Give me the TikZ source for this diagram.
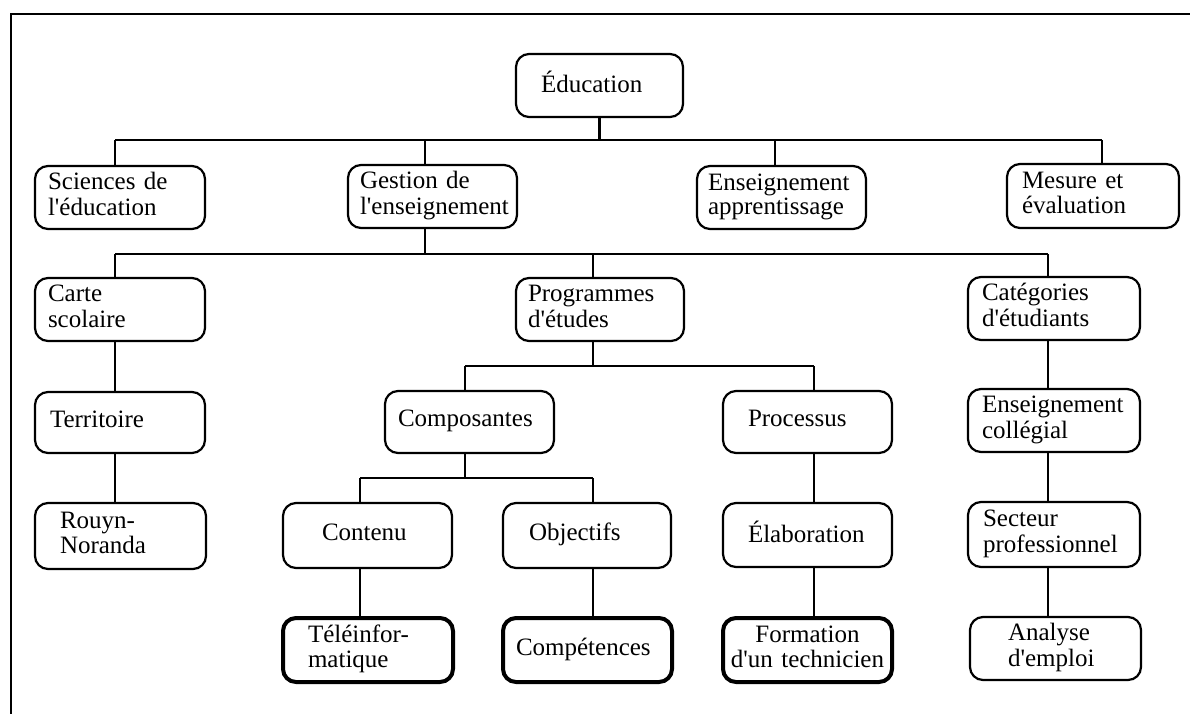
\documentclass[tikz,border=0pt]{standalone}
\usepackage{fontspec}
\setmainfont{Liberation Serif}[Ligatures=TeXOff]
\tikzset{
  box/.style={draw, line width=2.2pt, rounded corners=13pt, inner ysep=0pt,
    font=\fontsize{25}{24.5}\selectfont, align=left,
    execute at begin node=\strut, execute at end node=\strut},
  heavy/.style={line width=4pt},
  link/.style={line width=2.2pt},
  frame/.style={line width=2.2pt}
}
% \bx{name}{x1}{y1}{x2}{y2}{left inset}{extra style}{text}
\newcommand\bx[8]{%
  \pgfmathsetmacro\bxw{#4-#2}%
  \pgfmathsetmacro\bxh{#5-#3}%
  \pgfmathsetmacro\bxt{#4-#2-2*#6}%
  \node[box,#7,minimum width=\bxw pt,minimum height=\bxh pt,
        text width=\bxt pt,inner xsep=#6pt] (#1) at ({(#2+#4)/2},{(#3+#5)/2}) {#8};}
\begin{document}
\begin{tikzpicture}[x=1pt,y=-1pt]
\useasboundingbox (0,0) rectangle (1190,714);
\fill[white] (0,0) rectangle (1190,714);
% page frame (top and left rules)
\draw[frame] (11,714) -- (11,14) -- (1190,14);

% level 0
\bx{edu}{516}{54}{683}{117}{25}{}{Éducation}
% level 1
\bx{sci}{35}{166}{205}{229}{13}{}{Sciences de\\l'éducation}
\bx{ges}{348}{165}{517}{228}{12}{}{Gestion de\\l'enseignement}
\bx{ens}{697}{166}{866}{229}{11}{}{Enseignement\\apprentissage}
\bx{mes}{1007}{164}{1179}{228}{15}{}{Mesure et\\évaluation}
% level 2
\bx{car}{35}{278}{205}{341}{13}{}{Carte\\scolaire}
\bx{pro}{516}{278}{684}{341}{12}{}{Programmes\\d'études}
\bx{cat}{968}{277}{1140}{340}{14}{}{Catégories\\d'étudiants}
% level 3
\bx{ter}{35}{392}{205}{453}{15}{}{Territoire}
\bx{com}{385}{391}{554}{453}{13}{}{Composantes}
\bx{prc}{723}{391}{892}{453}{25}{}{Processus}
\bx{col}{968}{389}{1140}{452}{14}{}{Enseignement\\collégial}
% level 4
\bx{rou}{35}{503}{206}{569}{25}{}{Rouyn-\\Noranda}
\bx{cnt}{283}{503}{452}{568}{39}{}{Contenu}
\bx{obj}{503}{503}{671}{568}{26}{}{Objectifs}
\bx{ela}{723}{503}{892}{567}{25}{}{Élaboration}
\bx{sec}{968}{502}{1140}{567}{15}{}{Secteur\\professionnel}
% level 5
\bx{tel}{283}{618}{453}{682}{25}{heavy}{Téléinfor-\\matique}
\bx{cmp}{503}{618}{672}{682}{13}{heavy}{Compétences}
\bx{frm}{723}{618}{892}{682}{4}{heavy,align=center}{Formation\\d'un technicien}
\bx{ana}{970}{617}{1141}{680}{38}{}{Analyse\\d'emploi}

% junction points
\coordinate (a1) at (115,140);  \coordinate (a2) at (425,140);
\coordinate (a3) at (775,140);  \coordinate (a4) at (1102,140);
\coordinate (b0) at (425,254);
\coordinate (b1) at (115,254);  \coordinate (b2) at (593,254);
\coordinate (b3) at (1048,254);
\coordinate (c0) at (593,366);
\coordinate (c1) at (465,366);  \coordinate (c2) at (814,366);
\coordinate (d0) at (465,478);
\coordinate (d1) at (360,478);  \coordinate (d2) at (593,478);

% Éducation and its four branches
\draw[link] (edu.south) -- (edu.south |- a1);
\draw[link] (a1) -- (a4);
\draw[link] (a1) -- (a1 |- sci.north);
\draw[link] (a2) -- (a2 |- ges.north);
\draw[link] (a3) -- (a3 |- ens.north);
\draw[link] (a4) -- (a4 |- mes.north);

% Gestion de l'enseignement
\draw[link] (b0 |- ges.south) -- (b0);
\draw[link] (b1) -- (b3);
\draw[link] (b1) -- (b1 |- car.north);
\draw[link] (b2) -- (b2 |- pro.north);
\draw[link] (b3) -- (b3 |- cat.north);

% Carte scolaire column
\draw[link] (b1 |- car.south) -- (b1 |- ter.north);
\draw[link] (b1 |- ter.south) -- (b1 |- rou.north);

% Programmes d'études
\draw[link] (c0 |- pro.south) -- (c0);
\draw[link] (c1) -- (c2);
\draw[link] (c1) -- (c1 |- com.north);
\draw[link] (c2) -- (c2 |- prc.north);

% Composantes
\draw[link] (d0 |- com.south) -- (d0);
\draw[link] (d1) -- (d2);
\draw[link] (d1) -- (d1 |- cnt.north);
\draw[link] (d2) -- (d2 |- obj.north);
\draw[link] (d1 |- cnt.south) -- (d1 |- tel.north);
\draw[link] (d2 |- obj.south) -- (d2 |- cmp.north);

% Processus column
\draw[link] (c2 |- prc.south) -- (c2 |- ela.north);
\draw[link] (c2 |- ela.south) -- (c2 |- frm.north);

% Catégories d'étudiants column
\draw[link] (b3 |- cat.south) -- (b3 |- col.north);
\draw[link] (b3 |- col.south) -- (b3 |- sec.north);
\draw[link] (b3 |- sec.south) -- (b3 |- ana.north);
\end{tikzpicture}
\end{document}
